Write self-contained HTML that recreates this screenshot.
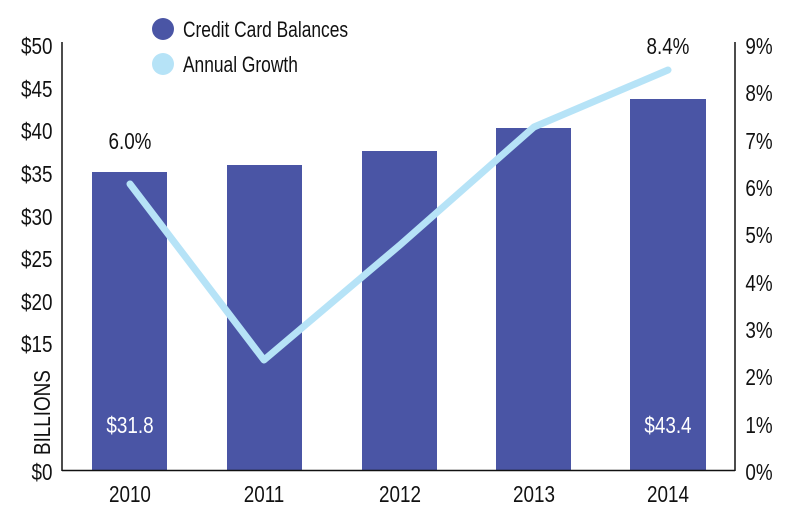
<!DOCTYPE html>
<html><head><meta charset="utf-8"><style>
html,body{margin:0;padding:0;background:#fff;}
svg{display:block;}
text{font-family:"Liberation Sans Narrow","Liberation Sans",sans-serif;fill:#111;}
</style></head><body>
<svg width="800" height="522" viewBox="0 0 800 522" xmlns="http://www.w3.org/2000/svg">
<rect width="800" height="522" fill="#fff"/>
<g fill="#4a55a5">
<rect x="92" y="172" width="75" height="298"/>
<rect x="227" y="165" width="75" height="305"/>
<rect x="362" y="151" width="75" height="319"/>
<rect x="496" y="128" width="75" height="342"/>
<rect x="630" y="99" width="76" height="371"/>
</g>
<line x1="62" y1="42" x2="62" y2="471" stroke="#111" stroke-width="1.5"/>
<line x1="735" y1="42" x2="735" y2="471" stroke="#111" stroke-width="1.5"/>
<line x1="62" y1="470.5" x2="735" y2="470.5" stroke="#111" stroke-width="1.5"/>
<polyline points="130,184 264,360 400,245 534,127 668,70" fill="none" stroke="#b6e3f7" stroke-width="7" stroke-linecap="round" stroke-linejoin="round"/>
<g font-size="23" text-anchor="end" transform="scale(0.82,1)">
<text x="64" y="54">$50</text>
<text x="64" y="97">$45</text>
<text x="64" y="139">$40</text>
<text x="64" y="182">$35</text>
<text x="64" y="225">$30</text>
<text x="64" y="267">$25</text>
<text x="64" y="310">$20</text>
<text x="64" y="352">$15</text>
<text x="64" y="480">$0</text>
</g>
<g transform="translate(50,455) rotate(-90) scale(0.82,1)">
<text x="0" y="0" font-size="23">BILLIONS</text>
</g>
<g font-size="23" text-anchor="start" transform="scale(0.82,1)">
<text x="909" y="54">9%</text>
<text x="909" y="101">8%</text>
<text x="909" y="149">7%</text>
<text x="909" y="196">6%</text>
<text x="909" y="243">5%</text>
<text x="909" y="291">4%</text>
<text x="909" y="338">3%</text>
<text x="909" y="385">2%</text>
<text x="909" y="433">1%</text>
<text x="909" y="480">0%</text>
</g>
<g font-size="23" text-anchor="middle" transform="scale(0.82,1)">
<text x="158.5" y="502">2010</text>
<text x="322" y="502">2011</text>
<text x="487.8" y="502">2012</text>
<text x="651.2" y="502">2013</text>
<text x="814.6" y="502">2014</text>
<text x="158.5" y="149">6.0%</text>
<text x="814.6" y="54">8.4%</text>
<text x="158.5" y="433" style="fill:#fff">$31.8</text>
<text x="814.6" y="433" style="fill:#fff">$43.4</text>
</g>
<circle cx="163" cy="29" r="11" fill="#4a55a5"/>
<circle cx="163" cy="64" r="11" fill="#b6e3f7"/>
<g font-size="22" transform="scale(0.79,1)">
<text x="231.6" y="37">Credit Card Balances</text>
<text x="231.6" y="72">Annual Growth</text>
</g>
</svg>
</body></html>
